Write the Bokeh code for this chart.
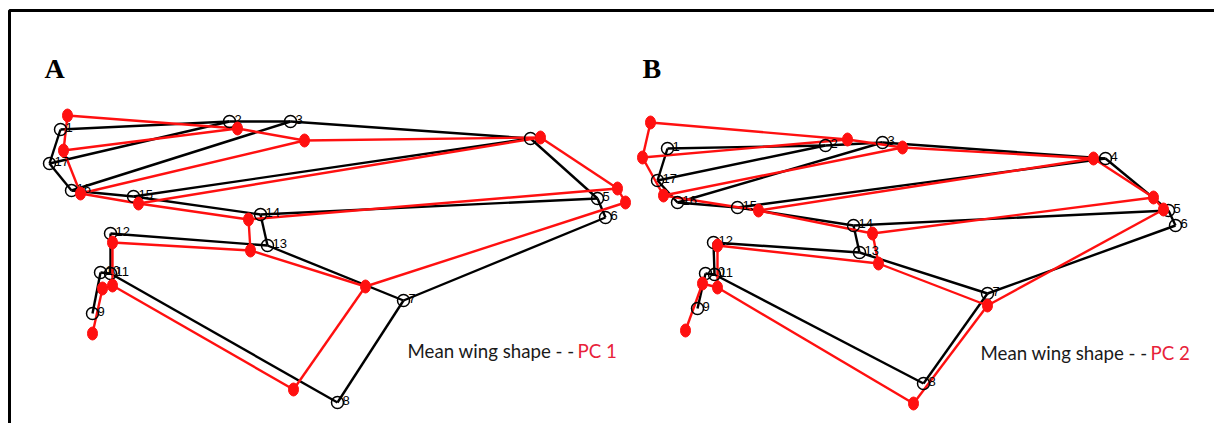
from bokeh.plotting import figure
from bokeh.models import Range1d, ColumnDataSource
from bokeh.core.properties import value
from bokeh.embed import file_html
from bokeh.resources import INLINE

# Landmark coordinates (page units, y grows downward), landmarks 1..17
a_mean_x = [60, 229, 290, 530, 597, 605, 403, 337, 92, 100, 110, 110, 267, 260, 133, 71, 49]
a_mean_y = [129, 121, 121, 138, 198, 217, 300, 402, 313, 272, 273, 233, 245, 214, 196, 190, 163]
a_pc_x = [67, 237, 304, 540, 617, 625, 365, 293, 92, 102, 112, 112, 250, 248, 138, 80, 63]
a_pc_y = [115, 128, 140, 137, 188, 202, 286, 389, 333, 288, 285, 242, 250, 219, 203, 193, 150]

b_mean_x = [667, 825, 882, 1105, 1168, 1175, 987, 923, 697, 705, 714, 713, 859, 853, 737, 677, 657]
b_mean_y = [148, 145, 142, 158, 210, 225, 293, 383, 308, 273, 274, 242, 252, 225, 207, 202, 180]
b_pc_x = [650, 847, 902, 1093, 1153, 1163, 987, 913, 685, 702, 717, 717, 878, 872, 758, 663, 642]
b_pc_y = [122, 139, 147, 158, 197, 209, 305, 403, 330, 283, 287, 245, 263, 233, 210, 195, 157]

landmark_labels = [str(i) for i in range(1, 18)]

# Wireframe links between landmarks (1-based)
links = [(1, 2), (2, 3), (3, 4), (4, 5), (5, 6), (6, 7), (7, 8), (8, 11),
         (11, 10), (10, 9), (11, 12), (12, 13), (13, 7), (13, 14), (14, 5),
         (14, 15), (15, 16), (16, 17), (17, 1), (17, 2), (16, 3), (15, 4)]

panel_titles = ["A", "B"]
panel_title_x = [44, 642]
legend_x = [407, 980]
legend_y = [350, 352]
pc_names = ["PC 1", "PC 2"]

RED = "#ff1010"
W, H = 1214, 423

p = figure(width=W, height=H, output_backend="svg", toolbar_location=None,
           x_range=Range1d(0, W), y_range=Range1d(H, 0), min_border=0)
p.axis.visible = False
p.grid.visible = False
p.outline_line_color = None
p.background_fill_color = "white"
p.border_fill_color = "white"

# frame around the figure (right/bottom edges lie off the page)
p.line(x=[9, 9, W + 20], y=[H + 20, 10, 10], line_color="black", line_width=3)


def link_segments(xs, ys):
    sx = [[xs[a - 1], xs[b - 1]] for a, b in links]
    sy = [[ys[a - 1], ys[b - 1]] for a, b in links]
    return sx, sy


def draw_panel(mx, my, rx, ry):
    sx, sy = link_segments(mx, my)
    p.multi_line(xs=sx, ys=sy, line_color="black", line_width=2.4)
    sx, sy = link_segments(rx, ry)
    p.multi_line(xs=sx, ys=sy, line_color=RED, line_width=2.4)
    p.scatter(x=mx, y=my, size=12, marker="circle", fill_color=None,
              line_color="black", line_width=1.5)
    src = ColumnDataSource(dict(x=[v + 5 for v in mx], y=[v + 2 for v in my],
                                t=landmark_labels))
    p.text(x="x", y="y", text="t", source=src, text_font=value("Liberation Sans"),
           text_font_size="13px", text_color="black", text_baseline="bottom")
    p.ellipse(x=rx, y=ry, width=10, height=13, fill_color=RED, line_color=RED)


draw_panel(a_mean_x, a_mean_y, a_pc_x, a_pc_y)
draw_panel(b_mean_x, b_mean_y, b_pc_x, b_pc_y)

p.text(x=panel_title_x, y=[68, 68], text=panel_titles,
       text_font=value("Liberation Serif"), text_font_style="bold",
       text_font_size="28px", text_color="black", text_baseline="alphabetic")

p.text(x=legend_x, y=legend_y, text=["Mean wing shape - -"] * 2,
       text_font=value("Lato"), text_font_size="18.7px", text_color="#1a1a1a",
       text_baseline="middle")
p.text(x=[v + 170 for v in legend_x], y=legend_y, text=pc_names,
       text_font=value("Lato"), text_font_size="18.7px", text_color="#e8223a",
       text_baseline="middle")

open("out.html", "w").write(file_html(p, INLINE))
